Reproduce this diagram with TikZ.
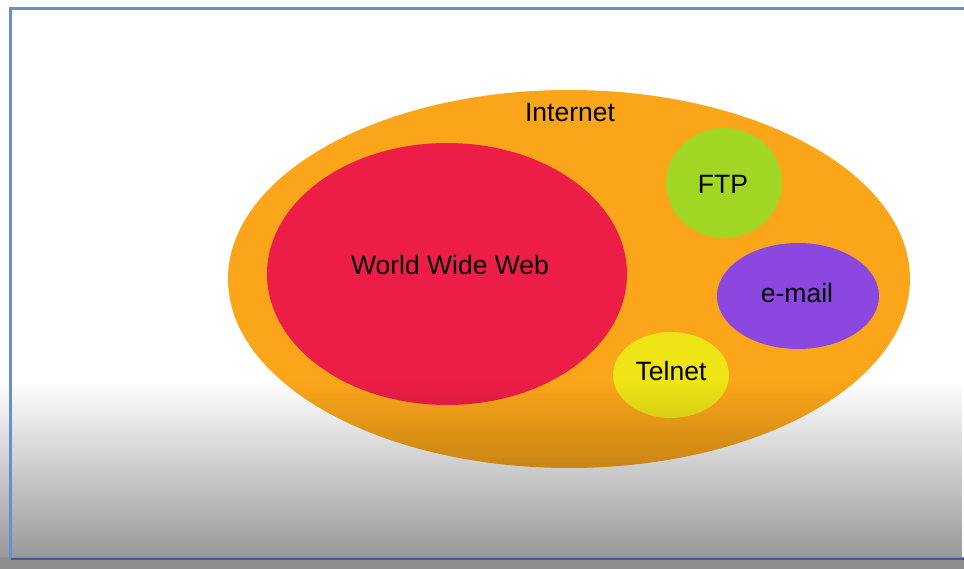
\documentclass[tikz,border=0pt]{standalone}
\usepackage{fontspec}
\setmainfont{Liberation Sans}
\usetikzlibrary{fadings,shapes.geometric}
\definecolor{inetorange}{HTML}{FBA61A}
\definecolor{wwwred}{HTML}{EC1E47}
\definecolor{ftpgreen}{HTML}{A2D625}
\definecolor{mailpurple}{HTML}{8C47E0}
\definecolor{telyellow}{HTML}{EEE416}
\definecolor{framecol}{HTML}{6A8CD0}
\definecolor{framedark}{HTML}{415E96}
\definecolor{stripgray}{HTML}{8E8E8E}
\tikzfading[name=fadedown, top color=transparent!100, bottom color=transparent!60]
\tikzset{
  blob/.style={ellipse, inner sep=0pt, outer sep=0pt},
  lbl/.style={font=\fontsize{26.5}{30}\selectfont, text=black, inner sep=0pt},
}
\begin{document}
\begin{tikzpicture}[x=1pt,y=-1pt]
\useasboundingbox (0,0) rectangle (964,569);
\fill[white] (0,0) rectangle (964,569);
% Internet
\node[blob, fill=inetorange, minimum width=682, minimum height=378] (inet) at (569,279) {};
\node[lbl] (inetlabel) at (570,113) {Internet};
\node[blob, fill=wwwred, minimum width=360, minimum height=262] (www) at (447,274) {};
\node[lbl] (wwwlabel) at (450,265) {World Wide Web};
\node[blob, fill=ftpgreen, minimum width=116, minimum height=110] (ftp) at (724,183) {};
\node[lbl] (ftplabel) at (723,184) {FTP};
\node[blob, fill=mailpurple, minimum width=162, minimum height=106] (mail) at (798,296) {};
\node[lbl] (maillabel) at (797,293) {e-mail};
\node[blob, fill=telyellow, minimum width=116, minimum height=86] (telnet) at (671,375) {};
\node[lbl] (telnetlabel) at (671,371) {Telnet};
% gradient overlay
\fill[black, path fading=fadedown] (0,381) rectangle (964,557);
\fill[stripgray] (0,557) rectangle (964,569);
% frame
\draw[framecol, line width=2.2pt] (970,8.5) -- (10.5,8.5) -- (10.5,559);
\draw[framedark, line width=2.2pt] (10.5,559) -- (970,559);
\end{tikzpicture}
\end{document}
